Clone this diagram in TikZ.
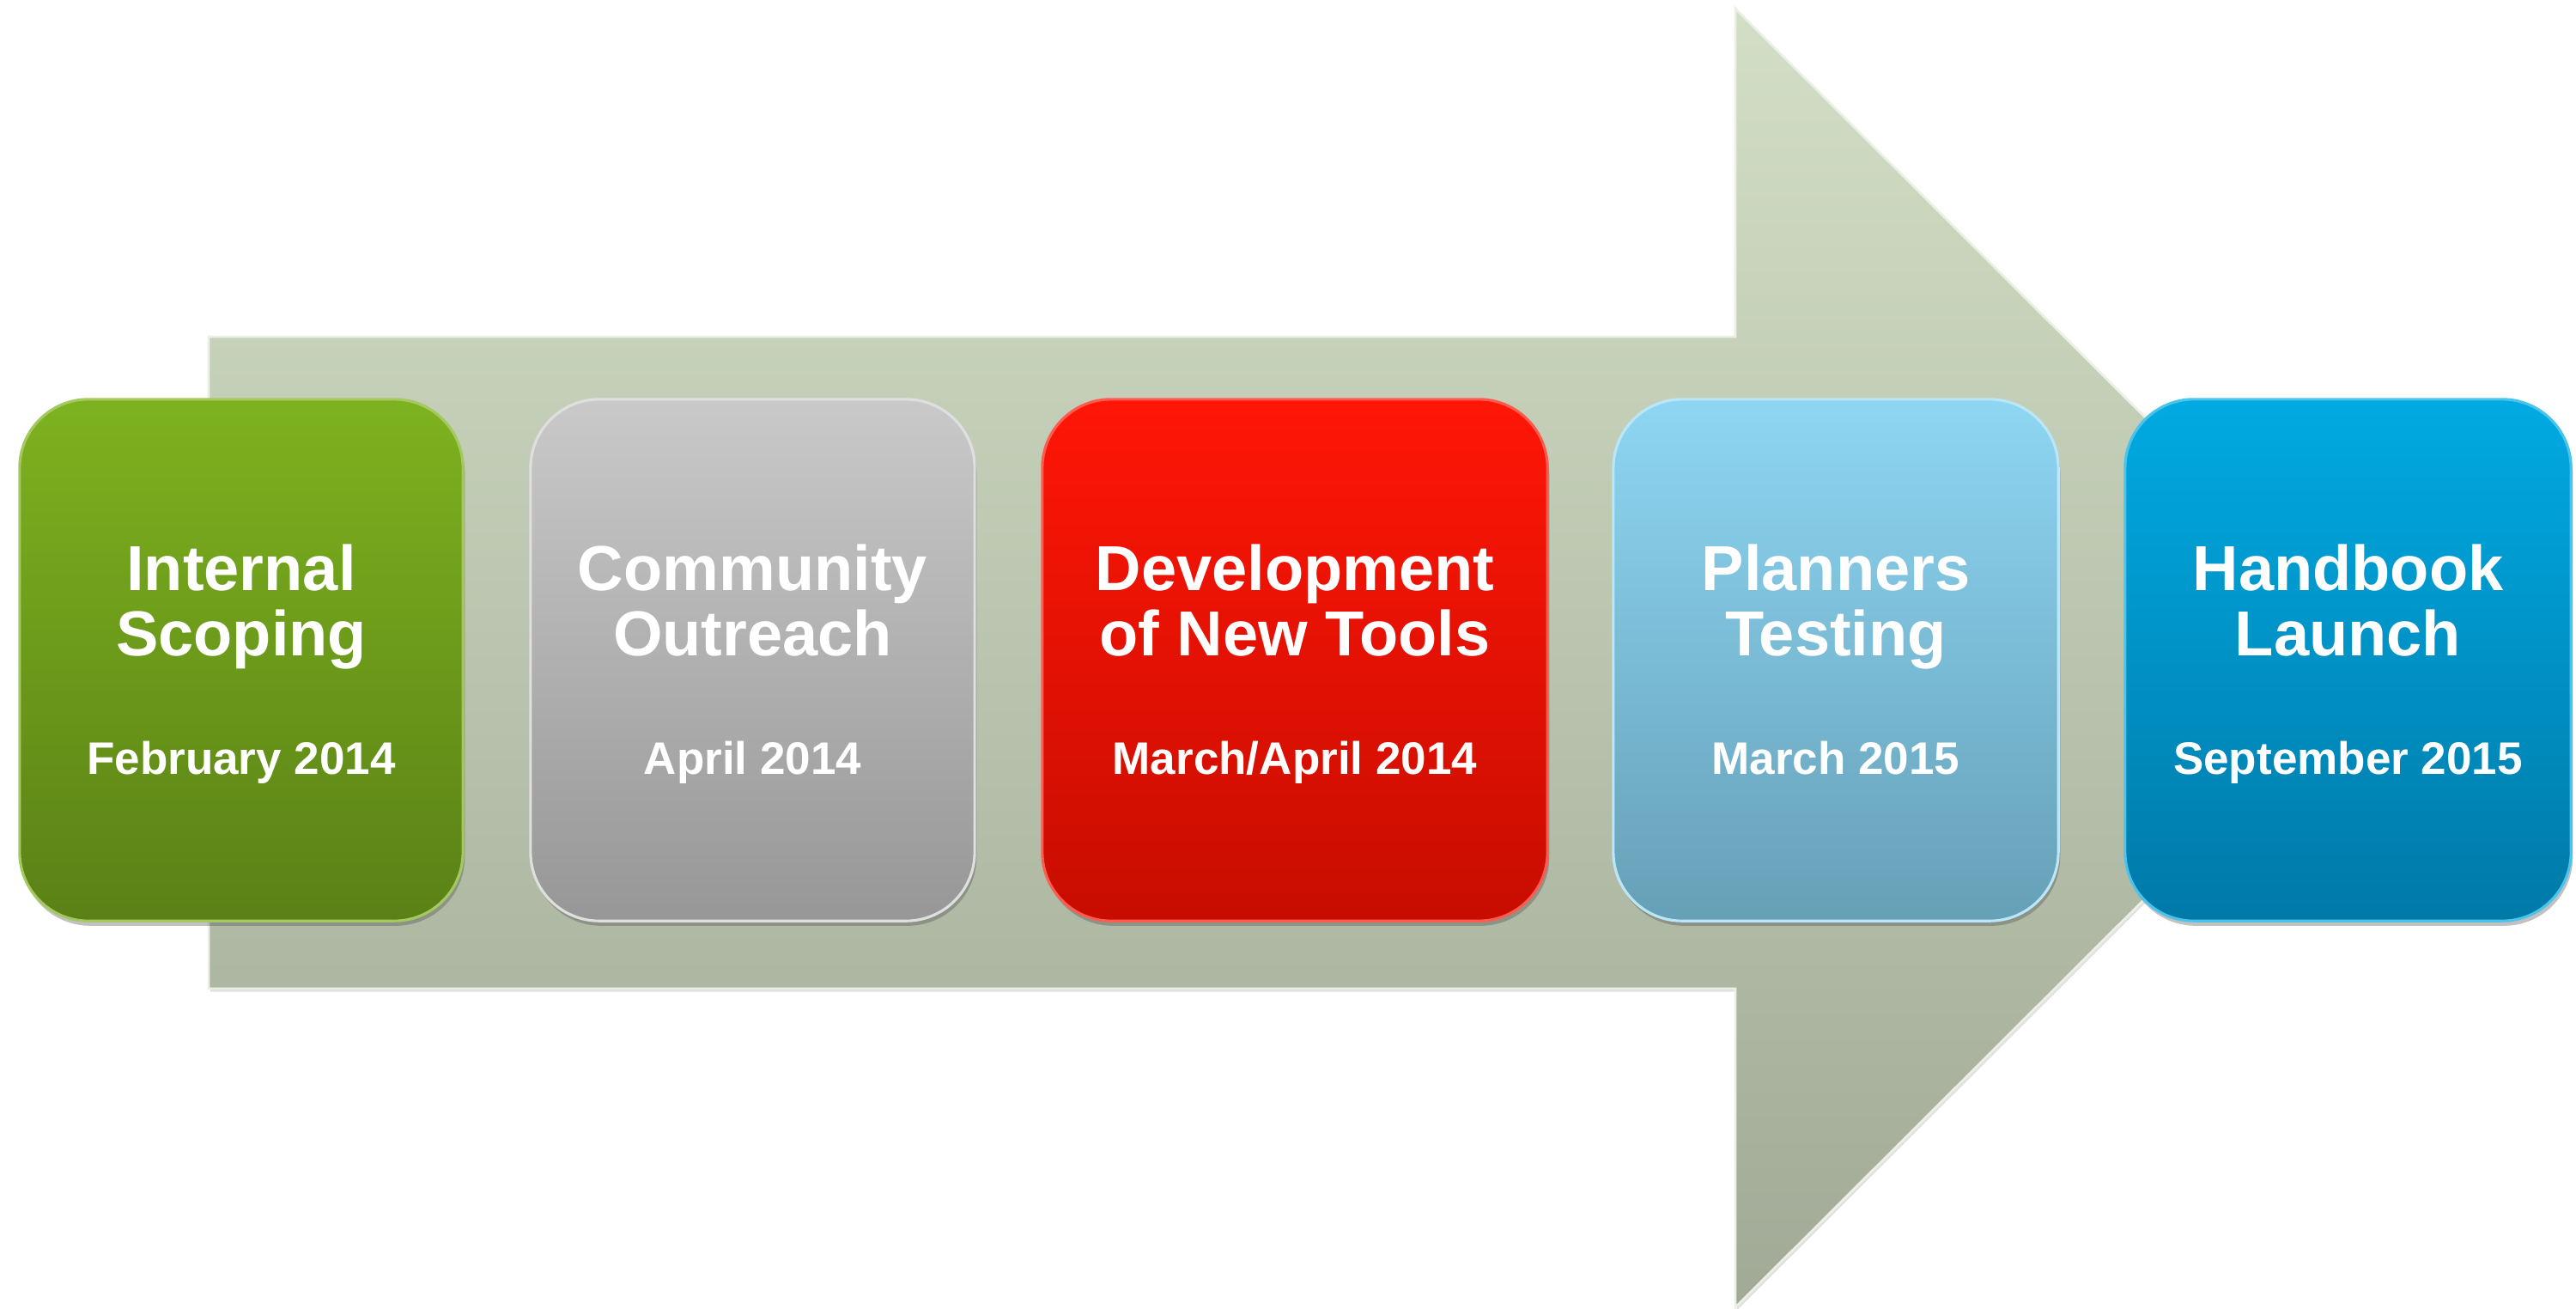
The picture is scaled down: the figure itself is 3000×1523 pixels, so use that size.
\documentclass[tikz,border=0pt]{standalone}
\usepackage{fontspec}
\setmainfont{Liberation Sans}
\usetikzlibrary{shadows}
\definecolor{arrTop}{HTML}{D3DEC6}
\definecolor{arrBot}{HTML}{A0AA96}
\definecolor{gTop}{HTML}{7DB21F}
\definecolor{gBot}{HTML}{5A8116}
\definecolor{sTop}{HTML}{C9C9C9}
\definecolor{sBot}{HTML}{979797}
\definecolor{rTop}{HTML}{FF1607}
\definecolor{rBot}{HTML}{C70D00}
\definecolor{lTop}{HTML}{8ED6F3}
\definecolor{lBot}{HTML}{66A0B7}
\definecolor{bTop}{HTML}{00AAE2}
\definecolor{bBot}{HTML}{0079A8}
\begin{document}
\begin{tikzpicture}[x=0.01cm,y=-0.01cm,
  stagebox/.style={rounded corners=0.8cm, minimum height=6.07cm, inner sep=0pt,
    line width=0.9pt,
    drop shadow={shadow xshift=0.6pt, shadow yshift=-1.6pt, opacity=0.35, fill=black!70}},
  ttl/.style={font=\bfseries\fontsize{21.05pt}{21.6pt}\selectfont, text=white, inner sep=0pt, anchor=base},
  dat/.style={font=\bfseries\fontsize{15.08pt}{16pt}\selectfont, text=white, inner sep=0pt, anchor=base}]
\useasboundingbox (0,0) rectangle (3000,1523);
% big arrow
\path[top color=arrTop, bottom color=arrBot, draw=white!55!arrTop, line width=0.8pt,
  drop shadow={shadow xshift=0.5pt, shadow yshift=-1pt, opacity=0.2, fill=black!60}]
  (243,392) -- (2021,392) -- (2021,10) -- (2779,766) -- (2021,1522) -- (2021,1151) -- (243,1151) -- cycle;
% stage boxes
\node[stagebox, minimum width=5.16cm, top color=gTop, bottom color=gBot, draw=gTop!70!white] (b1) at (281,768.5) {};
\node[stagebox, minimum width=5.17cm, top color=sTop, bottom color=sBot, draw=sTop!60!white] (b2) at (876.5,768.5) {};
\node[stagebox, minimum width=5.88cm, top color=rTop, bottom color=rBot, draw=rTop!70!white] (b3) at (1508,768.5) {};
\node[stagebox, minimum width=5.18cm, top color=lTop, bottom color=lBot, draw=lTop!60!white] (b4) at (2138,768.5) {};
\node[stagebox, minimum width=5.19cm, top color=bTop, bottom color=bBot, draw=bTop!70!white] (b5) at (2734.5,768.5) {};
% texts
\node[ttl] (t1a) at (281,687) {Internal};
\node[ttl] (t1b) at (281,763) {Scoping};
\node[dat] (d1) at (281,901) {February 2014};
\node[ttl] (t2a) at (876.5,687) {Community};
\node[ttl] (t2b) at (876.5,763) {Outreach};
\node[dat] (d2) at (876.5,901) {April 2014};
\node[ttl] (t3a) at (1508,687) {Development};
\node[ttl] (t3b) at (1508,763) {of New Tools};
\node[dat] (d3) at (1508,901) {March/April 2014};
\node[ttl] (t4a) at (2138,687) {Planners};
\node[ttl] (t4b) at (2138,763) {Testing};
\node[dat] (d4) at (2138,901) {March 2015};
\node[ttl] (t5a) at (2734.5,687) {Handbook};
\node[ttl] (t5b) at (2734.5,763) {Launch};
\node[dat] (d5) at (2734.5,901) {September 2015};
\end{tikzpicture}
\end{document}
